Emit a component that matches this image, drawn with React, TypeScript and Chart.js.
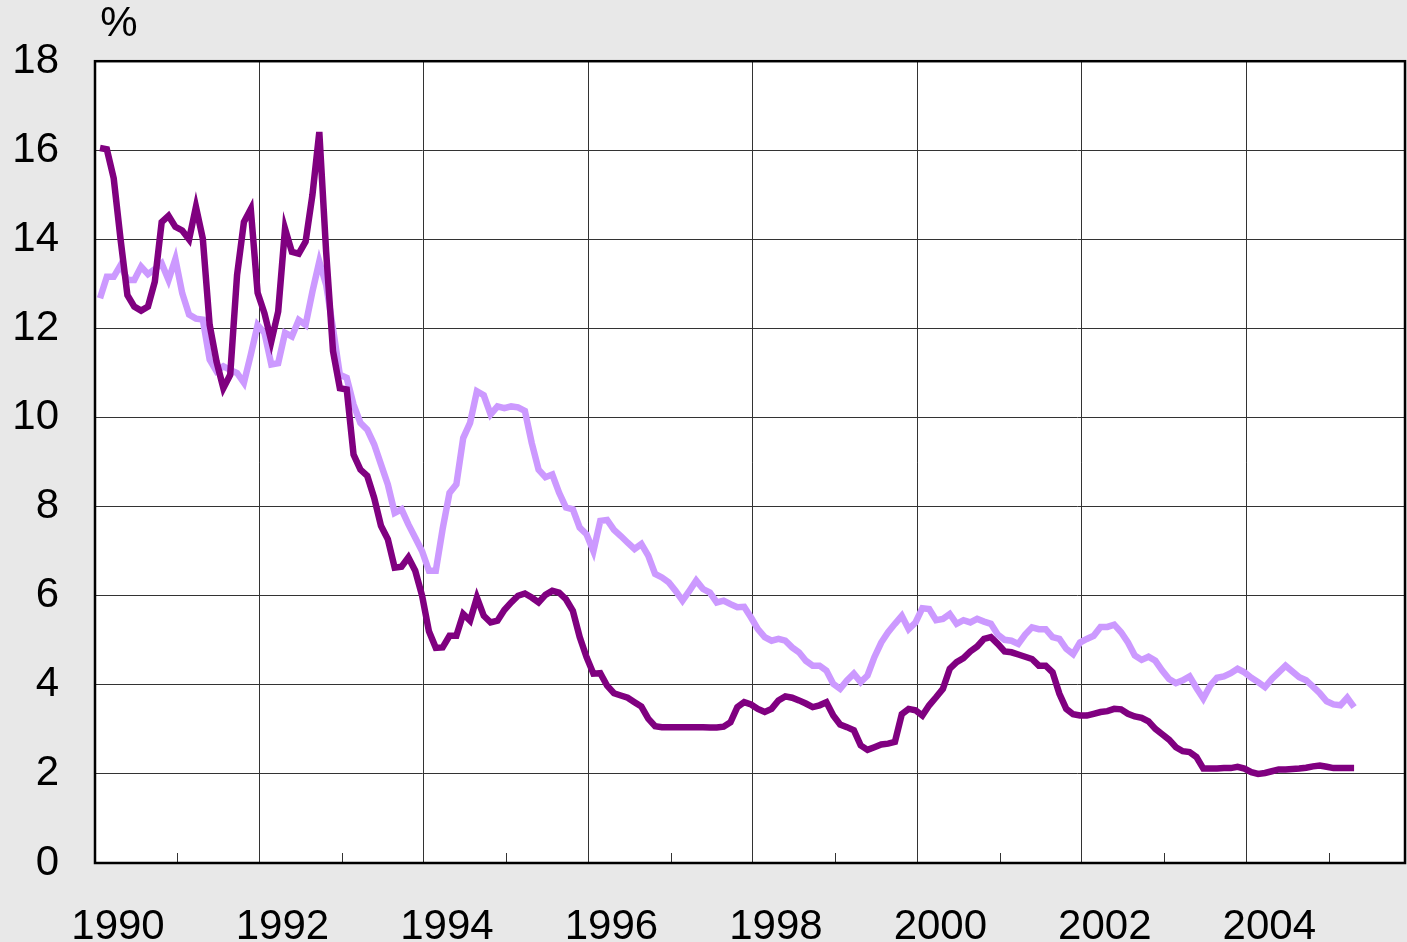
import React, { useEffect, useRef } from 'react';
import { Chart, registerables } from 'chart.js';

Chart.register(...registerables);

// Monthly series, Jan 1990 – Apr 2005 (percent)
const START_YEAR = 1990;
const MONTH_OFFSET = 0.73;

const seriesDark = [
  16.05, 16.02, 15.37, 14.0, 12.75, 12.49, 12.4, 12.49, 13.05, 14.39, 14.53, 14.28,
  14.2, 14.0, 14.73, 14.02, 12.08, 11.26, 10.66, 10.96, 13.2, 14.39, 14.68, 12.8,
  12.34, 11.71, 12.38, 14.24, 13.72, 13.68, 13.95, 15.0, 16.41, 13.72, 11.49, 10.66,
  10.63, 9.17, 8.83, 8.69, 8.2, 7.57, 7.27, 6.63, 6.65, 6.86, 6.56, 6.0,
  5.2, 4.83, 4.84, 5.1, 5.1, 5.59, 5.44, 5.96, 5.55, 5.4, 5.44, 5.68,
  5.85, 6.0, 6.05, 5.96, 5.85, 6.02, 6.11, 6.07, 5.92, 5.66, 5.07, 4.62,
  4.25, 4.26, 3.98, 3.81, 3.76, 3.71, 3.61, 3.51, 3.24, 3.07, 3.05, 3.05,
  3.05, 3.05, 3.05, 3.05, 3.05, 3.04, 3.04, 3.06, 3.16, 3.5, 3.61, 3.56,
  3.46, 3.39, 3.46, 3.65, 3.74, 3.71, 3.65, 3.58, 3.5, 3.54, 3.61, 3.31,
  3.11, 3.05, 2.98, 2.64, 2.54, 2.6, 2.66, 2.68, 2.72, 3.34, 3.46, 3.43,
  3.31, 3.54, 3.72, 3.91, 4.36, 4.51, 4.6, 4.75, 4.86, 5.03, 5.07, 4.92,
  4.75, 4.73, 4.68, 4.63, 4.58, 4.43, 4.43, 4.28, 3.8, 3.46, 3.34, 3.31,
  3.31, 3.35, 3.39, 3.41, 3.46, 3.45, 3.35, 3.29, 3.26, 3.18, 3.01, 2.89,
  2.77, 2.6, 2.51, 2.49, 2.38, 2.12, 2.12, 2.12, 2.13, 2.13, 2.16, 2.12,
  2.04, 2.0, 2.02, 2.06, 2.1, 2.1, 2.11, 2.12, 2.14, 2.17, 2.19, 2.16,
  2.13, 2.13, 2.13, 2.13,
];

const seriesLight = [
  12.68, 13.16, 13.16, 13.42, 13.09, 13.09, 13.39, 13.22, 13.33, 13.46, 13.09, 13.56,
  12.79, 12.31, 12.22, 12.2, 11.3, 11.04, 11.15, 11.07, 11.0, 10.78, 11.41, 12.08,
  11.9, 11.19, 11.22, 11.9, 11.82, 12.19, 12.08, 12.83, 13.5, 12.98, 12.0, 10.96,
  10.89, 10.29, 9.88, 9.73, 9.4, 8.95, 8.5, 7.86, 7.94, 7.6, 7.3, 7.0,
  6.56, 6.56, 7.5, 8.31, 8.5, 9.54, 9.88, 10.59, 10.5, 10.07, 10.25, 10.21,
  10.25, 10.23, 10.15, 9.43, 8.83, 8.66, 8.72, 8.31, 7.98, 7.94, 7.53, 7.38,
  7.0, 7.68, 7.7, 7.48, 7.34, 7.19, 7.05, 7.16, 6.9, 6.49, 6.41, 6.3,
  6.11, 5.89, 6.11, 6.34, 6.15, 6.07, 5.85, 5.89, 5.81, 5.74, 5.75, 5.51,
  5.25, 5.07, 4.99, 5.03, 4.99, 4.84, 4.73, 4.54, 4.43, 4.43, 4.32, 4.02,
  3.91, 4.1, 4.25, 4.06, 4.21, 4.62, 4.95, 5.18, 5.37, 5.55, 5.25, 5.4,
  5.72, 5.7, 5.45, 5.48, 5.59, 5.37, 5.45, 5.4, 5.48, 5.42, 5.37, 5.13,
  5.01, 4.99, 4.92, 5.13, 5.29, 5.25, 5.25, 5.07, 5.03, 4.81, 4.69, 4.95,
  5.03, 5.1, 5.3, 5.3, 5.35, 5.18, 4.95, 4.66, 4.56, 4.63, 4.54, 4.32,
  4.13, 4.04, 4.1, 4.19, 3.93, 3.69, 3.98, 4.16, 4.19, 4.26, 4.36, 4.28,
  4.16, 4.06, 3.95, 4.13, 4.28, 4.43, 4.3, 4.17, 4.1, 3.96, 3.81, 3.63,
  3.56, 3.54, 3.71, 3.5,
];

const X_MIN = 1990;
const X_MAX = 2005.93;
const Y_MIN = 0;
const Y_MAX = 18;
const Y_STEP = 2;
const UNIT_LABEL = '%';

const FONT = "'Liberation Sans', Arial, Helvetica, sans-serif";
const COLOR_DARK = '#800080';
const COLOR_LIGHT = '#cc99ff';
const GRID = '#333333';

function toPoints(vals: number[]) {
  return vals.map((v, i) => ({ x: START_YEAR + (i + MONTH_OFFSET) / 12, y: v }));
}

const framePlugin = {
  id: 'frame',
  beforeDraw(chart: any) {
    const { ctx, chartArea: a, width, height } = chart;
    ctx.save();
    ctx.fillStyle = '#e8e8e8';
    ctx.fillRect(0, 0, width, height);
    ctx.fillStyle = '#ffffff';
    ctx.fillRect(a.left, a.top, a.right - a.left, a.bottom - a.top);
    ctx.restore();
  },
  afterDraw(chart: any) {
    const { ctx, chartArea: a } = chart;
    const xs = chart.scales.x;
    ctx.save();
    // inward tick marks at odd years
    ctx.strokeStyle = GRID;
    ctx.lineWidth = 1;
    for (let yr = Math.ceil(X_MIN); yr <= Math.floor(X_MAX); yr++) {
      if (yr % 2 !== 0) {
        const px = Math.round(xs.getPixelForValue(yr)) + 0.5;
        ctx.beginPath();
        ctx.moveTo(px, a.bottom);
        ctx.lineTo(px, a.bottom - 10);
        ctx.stroke();
      }
    }
    // frame
    ctx.strokeStyle = '#000000';
    ctx.lineWidth = 2.5;
    ctx.strokeRect(a.left, a.top, a.right - a.left, a.bottom - a.top);
    // unit label
    ctx.fillStyle = '#000000';
    ctx.font = `42px ${FONT}`;
    ctx.textAlign = 'center';
    ctx.textBaseline = 'middle';
    ctx.fillText(UNIT_LABEL, a.left + 24, 24);
    ctx.restore();
  },
};

export default function App() {
  const ref = useRef<HTMLCanvasElement | null>(null);

  useEffect(() => {
    if (!ref.current) return;
    const chart = new Chart(ref.current, {
      type: 'line',
      data: {
        datasets: [
          {
            data: toPoints(seriesDark),
            borderColor: COLOR_DARK,
            borderWidth: 6.5,
            pointRadius: 0,
            tension: 0,
            fill: false,
          },
          {
            data: toPoints(seriesLight),
            borderColor: COLOR_LIGHT,
            borderWidth: 6.5,
            pointRadius: 0,
            tension: 0,
            fill: false,
          },
        ],
      },
      options: {
        animation: false,
        responsive: false,
        devicePixelRatio: 1,
        layout: { padding: { top: 59, right: 2, left: 0, bottom: 0 } },
        plugins: {
          legend: { display: false },
          tooltip: { enabled: false },
        },
        scales: {
          x: {
            type: 'linear',
            min: X_MIN,
            max: X_MAX,
            afterFit: (s: any) => {
              s.height = 79;
            },
            border: { display: false },
            grid: {
              color: (c: any) =>
                c.tick && Math.abs(c.tick.value % 2) < 1e-6 ? GRID : 'rgba(0,0,0,0)',
              lineWidth: 1,
              drawTicks: false,
            },
            ticks: {
              stepSize: 1,
              autoSkip: false,
              maxRotation: 0,
              minRotation: 0,
              includeBounds: false,
              labelOffset: 23,
              padding: 39,
              color: '#000',
              font: { family: FONT, size: 42 },
              callback: (v: any) => (Number.isInteger(v) && v % 2 === 0 ? String(v) : ''),
            },
          },
          y: {
            min: Y_MIN,
            max: Y_MAX,
            afterFit: (s: any) => {
              s.width = 95;
            },
            border: { display: false },
            grid: { color: GRID, lineWidth: 1, drawTicks: false },
            ticks: {
              stepSize: Y_STEP,
              padding: 36,
              color: '#000',
              font: { family: FONT, size: 42 },
            },
          },
        },
      },
      plugins: [framePlugin],
    } as any);
    return () => chart.destroy();
  }, []);

  return (
    <div style={{ position: 'absolute', left: 0, top: 0, width: 1407, height: 942 }}>
      <canvas ref={ref} width={1407} height={942} style={{ display: 'block' }} />
    </div>
  );
}
